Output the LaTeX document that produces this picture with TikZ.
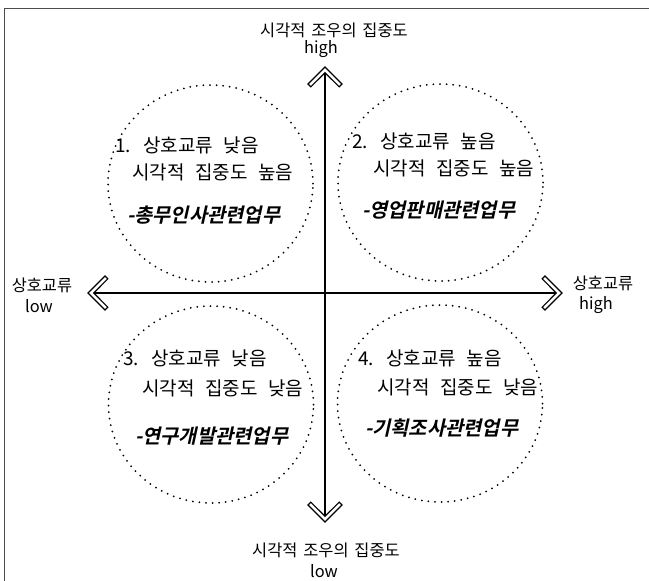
\documentclass[tikz,border=0pt]{standalone}
\usepackage{fontspec}
\setmainfont{Noto Sans CJK KR}[WordSpace=2.5]
\newfontfamily\axisfont{Noto Sans CJK KR}[WordSpace=1.6]
\newfontfamily\jobfont{Noto Sans CJK KR Bold}[FakeSlant=0.22, WordSpace=2.5]
\usetikzlibrary{shapes.geometric}
\tikzset{
  quadrant/.style={ellipse, draw, inner sep=0pt, minimum width=205pt, minimum height=197pt,
    line width=2pt, line cap=round, dash pattern=on 0pt off 6.6pt},
  itemtext/.style={anchor=west, inner sep=0pt, font=\fontsize{19}{22}\selectfont},
  jobtext/.style={anchor=west, inner sep=0pt, font=\fontsize{19.8}{22}\jobfont},
  axislabel/.style={inner sep=0pt, font=\fontsize{16.4}{19}\axisfont},
  axisline/.style={line width=1.3pt},
  chevron/.pic={
    \draw[fill=white, line width=1.2pt, line join=miter]
      (0,0) -- (-17,17) -- (-19.8,14.2) -- (-5.7,0) -- (-19.8,-14.2) -- (-17,-17) -- cycle;
  }
}

\begin{document}
\begin{tikzpicture}[x=1pt, y=-1pt]
    \useasboundingbox (0,0) rectangle (649,581);
    \draw[gray!60!black, line width=1pt] (4,581) -- (4,8) -- (649,8);
    % quadrants
    \node[quadrant] (q1) at (210.5,183.5) {};
    \node[quadrant] (q2) at (440.5,182.5) {};
    \node[quadrant] (q3) at (211,404.5) {};
    \node[quadrant] (q4) at (440,403.5) {};
    % axes
    \coordinate (vhigh) at (325,67);
    \coordinate (vlow) at (325,522);
    \coordinate (hlow) at (88,293);
    \coordinate (hhigh) at (562,293);
    \draw[axisline] (vlow) -- (vhigh);
    \draw[axisline] (hlow) -- (hhigh);
    \pic[rotate=90] at (vhigh) {chevron};
    \pic[rotate=-90] at (vlow) {chevron};
    \pic[rotate=180] at (hlow) {chevron};
    \pic at (hhigh) {chevron};
    % axis labels
    \node[axislabel] (vhightitle) at (334,30) {시각적 조우의 집중도};
    \node[axislabel] (vhighval) at (321,49) {high};
    \node[axislabel] (vlowtitle) at (326,550) {시각적 조우의 집중도};
    \node[axislabel] (vlowval) at (324,571) {low};
    \node[axislabel] (hlowtitle) at (42,285) {상호교류};
    \node[axislabel] (hlowval) at (39,306) {low};
    \node[axislabel] (hhightitle) at (603,283) {상호교류};
    \node[axislabel] (hhighval) at (596,305) {high};
    % quadrant texts
    \node[itemtext] (q1a) at (115,145.5) {1. 상호교류 낮음};
    \node[itemtext] (q1b) at (132,172) {시각적 집중도 높음};
    \node[jobtext] (q1c) at (127,215) {-총무인사관련업무};
    \node[itemtext] (q2a) at (352,141) {2. 상호교류 높음};
    \node[itemtext] (q2b) at (373,168) {시각적 집중도 높음};
    \node[jobtext] (q2c) at (362,210) {-영업판매관련업무};
    \node[itemtext] (q3a) at (123,358) {3. 상호교류 낮음};
    \node[itemtext] (q3b) at (142,388) {시각적 집중도 낮음};
    \node[jobtext] (q3c) at (135,436) {-연구개발관련업무};
    \node[itemtext] (q4a) at (358,358) {4. 상호교류 높음};
    \node[itemtext] (q4b) at (377,387) {시각적 집중도 낮음};
    \node[jobtext] (q4c) at (365,428) {-기획조사관련업무};
\end{tikzpicture}
\end{document}
